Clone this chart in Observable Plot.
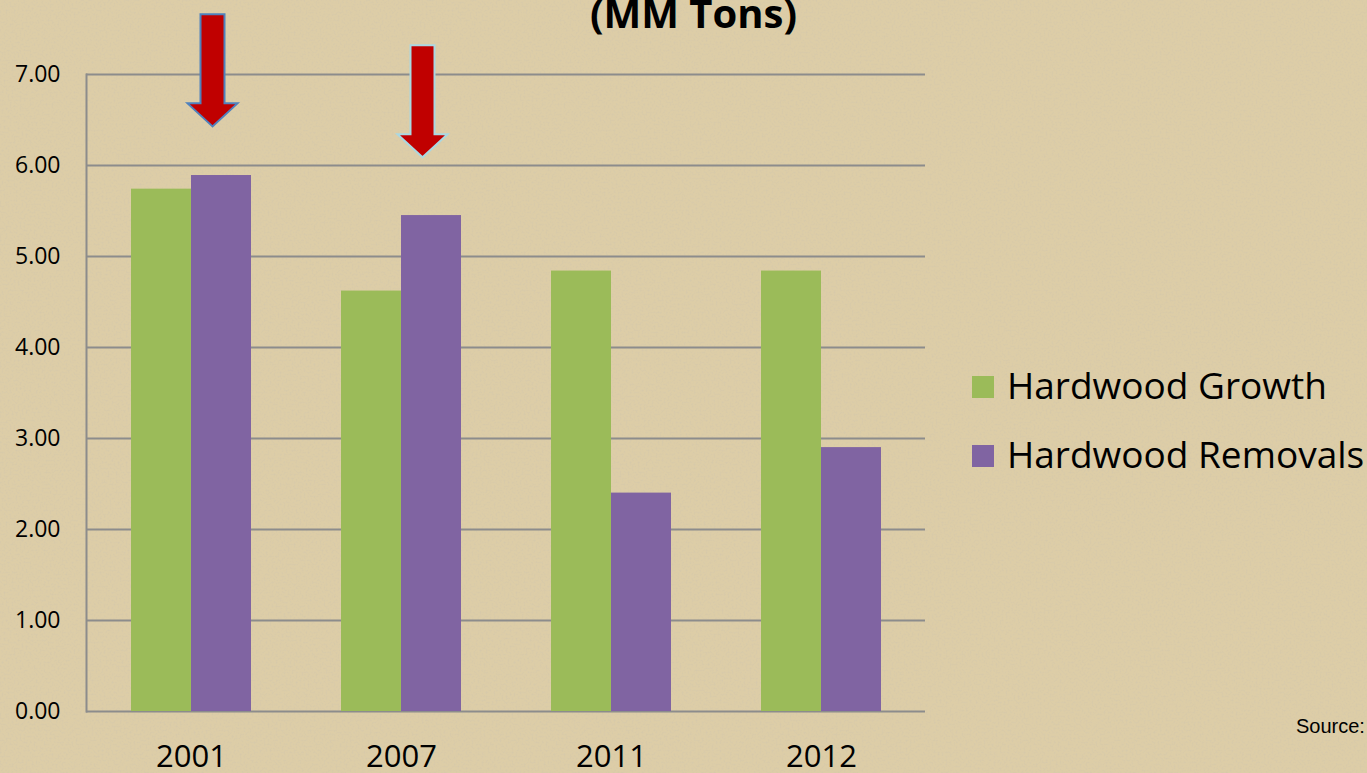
<!DOCTYPE html>
<html>
<head>
<meta charset="utf-8">
<script src="https://cdn.jsdelivr.net/npm/d3@7"></script>
<script src="https://cdn.jsdelivr.net/npm/@observablehq/plot@0.6"></script>
<style>
  html, body { margin: 0; padding: 0; }
  body { width: 1367px; height: 773px; overflow: hidden; background: #ddcda7; position: relative; font-family: "Open Sans", sans-serif; }
  #texture { position: absolute; left: 0; top: 0; }
  #chart { position: absolute; left: 0; top: 0; }
  #overlay { position: absolute; left: 0; top: 0; pointer-events: none; }
</style>
</head>
<body>
<svg id="texture" width="1367" height="773">
  <filter id="noise"><feTurbulence type="fractalNoise" baseFrequency="0.5" numOctaves="2" seed="3"/><feColorMatrix type="matrix" values="0 0 0 0 0.62  0 0 0 0 0.55  0 0 0 0 0.42  0 0 0 -2.2 1.25"/></filter>
  <rect width="1367" height="773" filter="url(#noise)" opacity="0.45"/>
</svg>
<div id="chart"></div>
<svg id="overlay" width="1367" height="773">
  <text id="title" x="693.5" y="28" text-anchor="middle" font-family="Open Sans" font-weight="bold" font-size="40" fill="#000">(MM Tons)</text>
  <g id="legend" font-family="Open Sans" font-size="37" fill="#000"></g>
  <text x="1296" y="733" font-family="Liberation Sans" font-size="20" fill="#000">Source:</text>
</svg>
<script>
// ---- data ----
const years = ["2001", "2007", "2011", "2012"];
const growth = [5.74, 4.62, 4.84, 4.84];
const removals = [5.89, 5.45, 2.40, 2.90];
const seriesNames = ["Hardwood Growth", "Hardwood Removals"];
const seriesColors = ["#9bbb59", "#8064a2"];
const yTicks = [0, 1, 2, 3, 4, 5, 6, 7];
const arrowYears = ["2001", "2007"];
const arrowTips = [6.43, 6.09];
const arrowOutlines = ["#4f81bd", "#aad8e2"];

// ---- tables built from the arrays ----
const table = years.flatMap((y, i) => [
  {year: y, series: seriesNames[0], value: growth[i]},
  {year: y, series: seriesNames[1], value: removals[i]}
]);
const arrows = arrowYears.map((y, i) => ({year: y, tip: arrowTips[i], outline: arrowOutlines[i]}));

// arrow glyph, anchored at its tip
const arrowSymbol = {
  draw(ctx) {
    ctx.moveTo(0, 0);
    ctx.lineTo(-25, -23);
    ctx.lineTo(-12, -23);
    ctx.lineTo(-12, -112);
    ctx.lineTo(12, -112);
    ctx.lineTo(12, -23);
    ctx.lineTo(25, -23);
    ctx.closePath();
  }
};

const chart = Plot.plot({
  width: 930,
  height: 773,
  marginLeft: 86,
  marginRight: 5,
  marginTop: 74,
  marginBottom: 62,
  style: {background: "transparent", fontFamily: "Open Sans", color: "#000", overflow: "visible"},
  x: {domain: years, paddingInner: 0.4286, paddingOuter: 0.21, label: null},
  y: {domain: [0, 7], label: null},
  color: {domain: seriesNames, range: seriesColors},
  marks: [
    Plot.ruleY(yTicks, {stroke: "#8c8c8c", strokeWidth: 2}),
    Plot.frame({anchor: "left", stroke: "#8c8c8c", strokeWidth: 2}),
    Plot.barY(table.filter(d => d.series === seriesNames[0]), {x: "year", y: "value", fill: "series", insetRight: 60}),
    Plot.barY(table.filter(d => d.series === seriesNames[1]), {x: "year", y: "value", fill: "series", insetLeft: 60}),
    ...arrows.map(a => Plot.dot([a], {
      x: "year", y: "tip", dx: 21, symbol: arrowSymbol, fill: "#c00000", stroke: a.outline, strokeWidth: 2, fillOpacity: 1,
      style: {filter: "drop-shadow(2px 3px 2px rgba(0,0,0,0.35))"}
    })),
    Plot.axisY(yTicks, {tickSize: 0, tickPadding: 26, tickFormat: d => d.toFixed(2), fontSize: 23, label: null, fill: "#000"}),
    Plot.axisX({tickSize: 0, tickPadding: 33, fontSize: 31, label: null, fill: "#000"})
  ]
});
document.getElementById("chart").appendChild(chart);

// legend from the series arrays, using the chart's color scale
const color = chart.scale("color");
const legend = d3.select("#legend");
const rows = [376, 445];
seriesNames.forEach((name, i) => {
  legend.append("rect").attr("x", 972).attr("y", rows[i]).attr("width", 22).attr("height", 22)
    .attr("fill", color.apply(name));
  legend.append("text").attr("x", 1007).attr("y", rows[i] + 23).text(name);
});
</script>
</body>
</html>
